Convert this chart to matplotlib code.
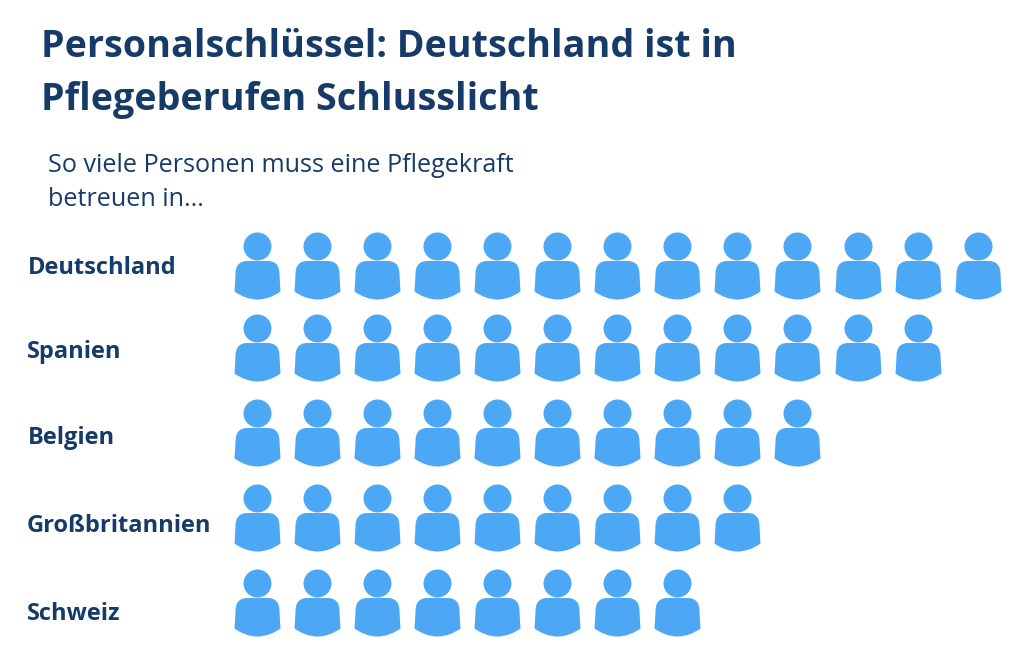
import matplotlib
matplotlib.use("Agg")
from matplotlib import pyplot as plt
from matplotlib.path import Path

# Daten
laender = ["Deutschland", "Spanien", "Belgien", "Großbritannien", "Schweiz"]
personen = [13, 12, 10, 9, 8]

titel = ["Personalschlüssel: Deutschland ist in", "Pflegeberufen Schlusslicht"]
untertitel = ["So viele Personen muss eine Pflegekraft", "betreuen in..."]

dunkel = "#173b69"
blau = "#4ca8f5"

# Figur in Pixelkoordinaten
fig = plt.figure(figsize=(10.24, 6.66), dpi=100)
ax = fig.add_axes([0, 0, 1, 1])
ax.set_xlim(0, 1024)
ax.set_ylim(666, 0)
ax.axis("off")

# Personen-Symbol: Kopf + Oberkoerper, Mittelpunkt bei 0,0
kopf = Path.circle((0, 19), 14)
koerper = Path(
    [(-11, 4.5), (-19, 4), (-22, -1), (-22, -9),
     (-22.3, -15), (-22.7, -21), (-23, -26),
     (-16, -31), (-8, -34), (0, -34),
     (8, -34), (16, -31), (23, -26),
     (22.7, -21), (22.3, -15), (22, -9),
     (22, -1), (19, 4), (11, 4.5),
     (4, 4.5), (-4, 4.5), (-11, 4.5),
     (-11, 4.5)],
    [Path.MOVETO, Path.CURVE4, Path.CURVE4, Path.CURVE4,
     Path.CURVE4, Path.CURVE4, Path.CURVE4,
     Path.CURVE4, Path.CURVE4, Path.CURVE4,
     Path.CURVE4, Path.CURVE4, Path.CURVE4,
     Path.CURVE4, Path.CURVE4, Path.CURVE4,
     Path.CURVE4, Path.CURVE4, Path.CURVE4,
     Path.CURVE4, Path.CURVE4, Path.CURVE4,
     Path.CLOSEPOLY],
)
symbol = Path.make_compound_path(kopf, koerper)
groesse = (68 * 72 / 100) ** 2

zeilen_y = [265, 347, 432, 517, 602]
label_y = [268, 352, 438, 526, 614]
label_x = [28, 27, 28, 27, 27]

for n, y, ly, lx, land in zip(personen, zeilen_y, label_y, label_x, laender):
    xs = [256.7 + 60.08 * i for i in range(n)]
    ax.scatter(xs, [y] * n, marker=symbol, s=groesse, color=blau, linewidths=0)
    ax.text(lx, ly, land, fontsize=17, fontweight="bold", family="Open Sans",
            color=dunkel, va="center", ha="left")

ax.text(41, 47, titel[0], fontsize=27.1, fontweight="bold", family="Open Sans",
        color=dunkel, va="center", ha="left")
ax.text(41, 100, titel[1], fontsize=27.1, fontweight="bold", family="Open Sans",
        color=dunkel, va="center", ha="left")
ax.text(48, 166, untertitel[0], fontsize=18.1, family="Open Sans",
        color=dunkel, va="center", ha="left")
ax.text(48, 200, untertitel[1], fontsize=18.1, family="Open Sans",
        color=dunkel, va="center", ha="left")

fig.savefig("out.png", dpi=100)
